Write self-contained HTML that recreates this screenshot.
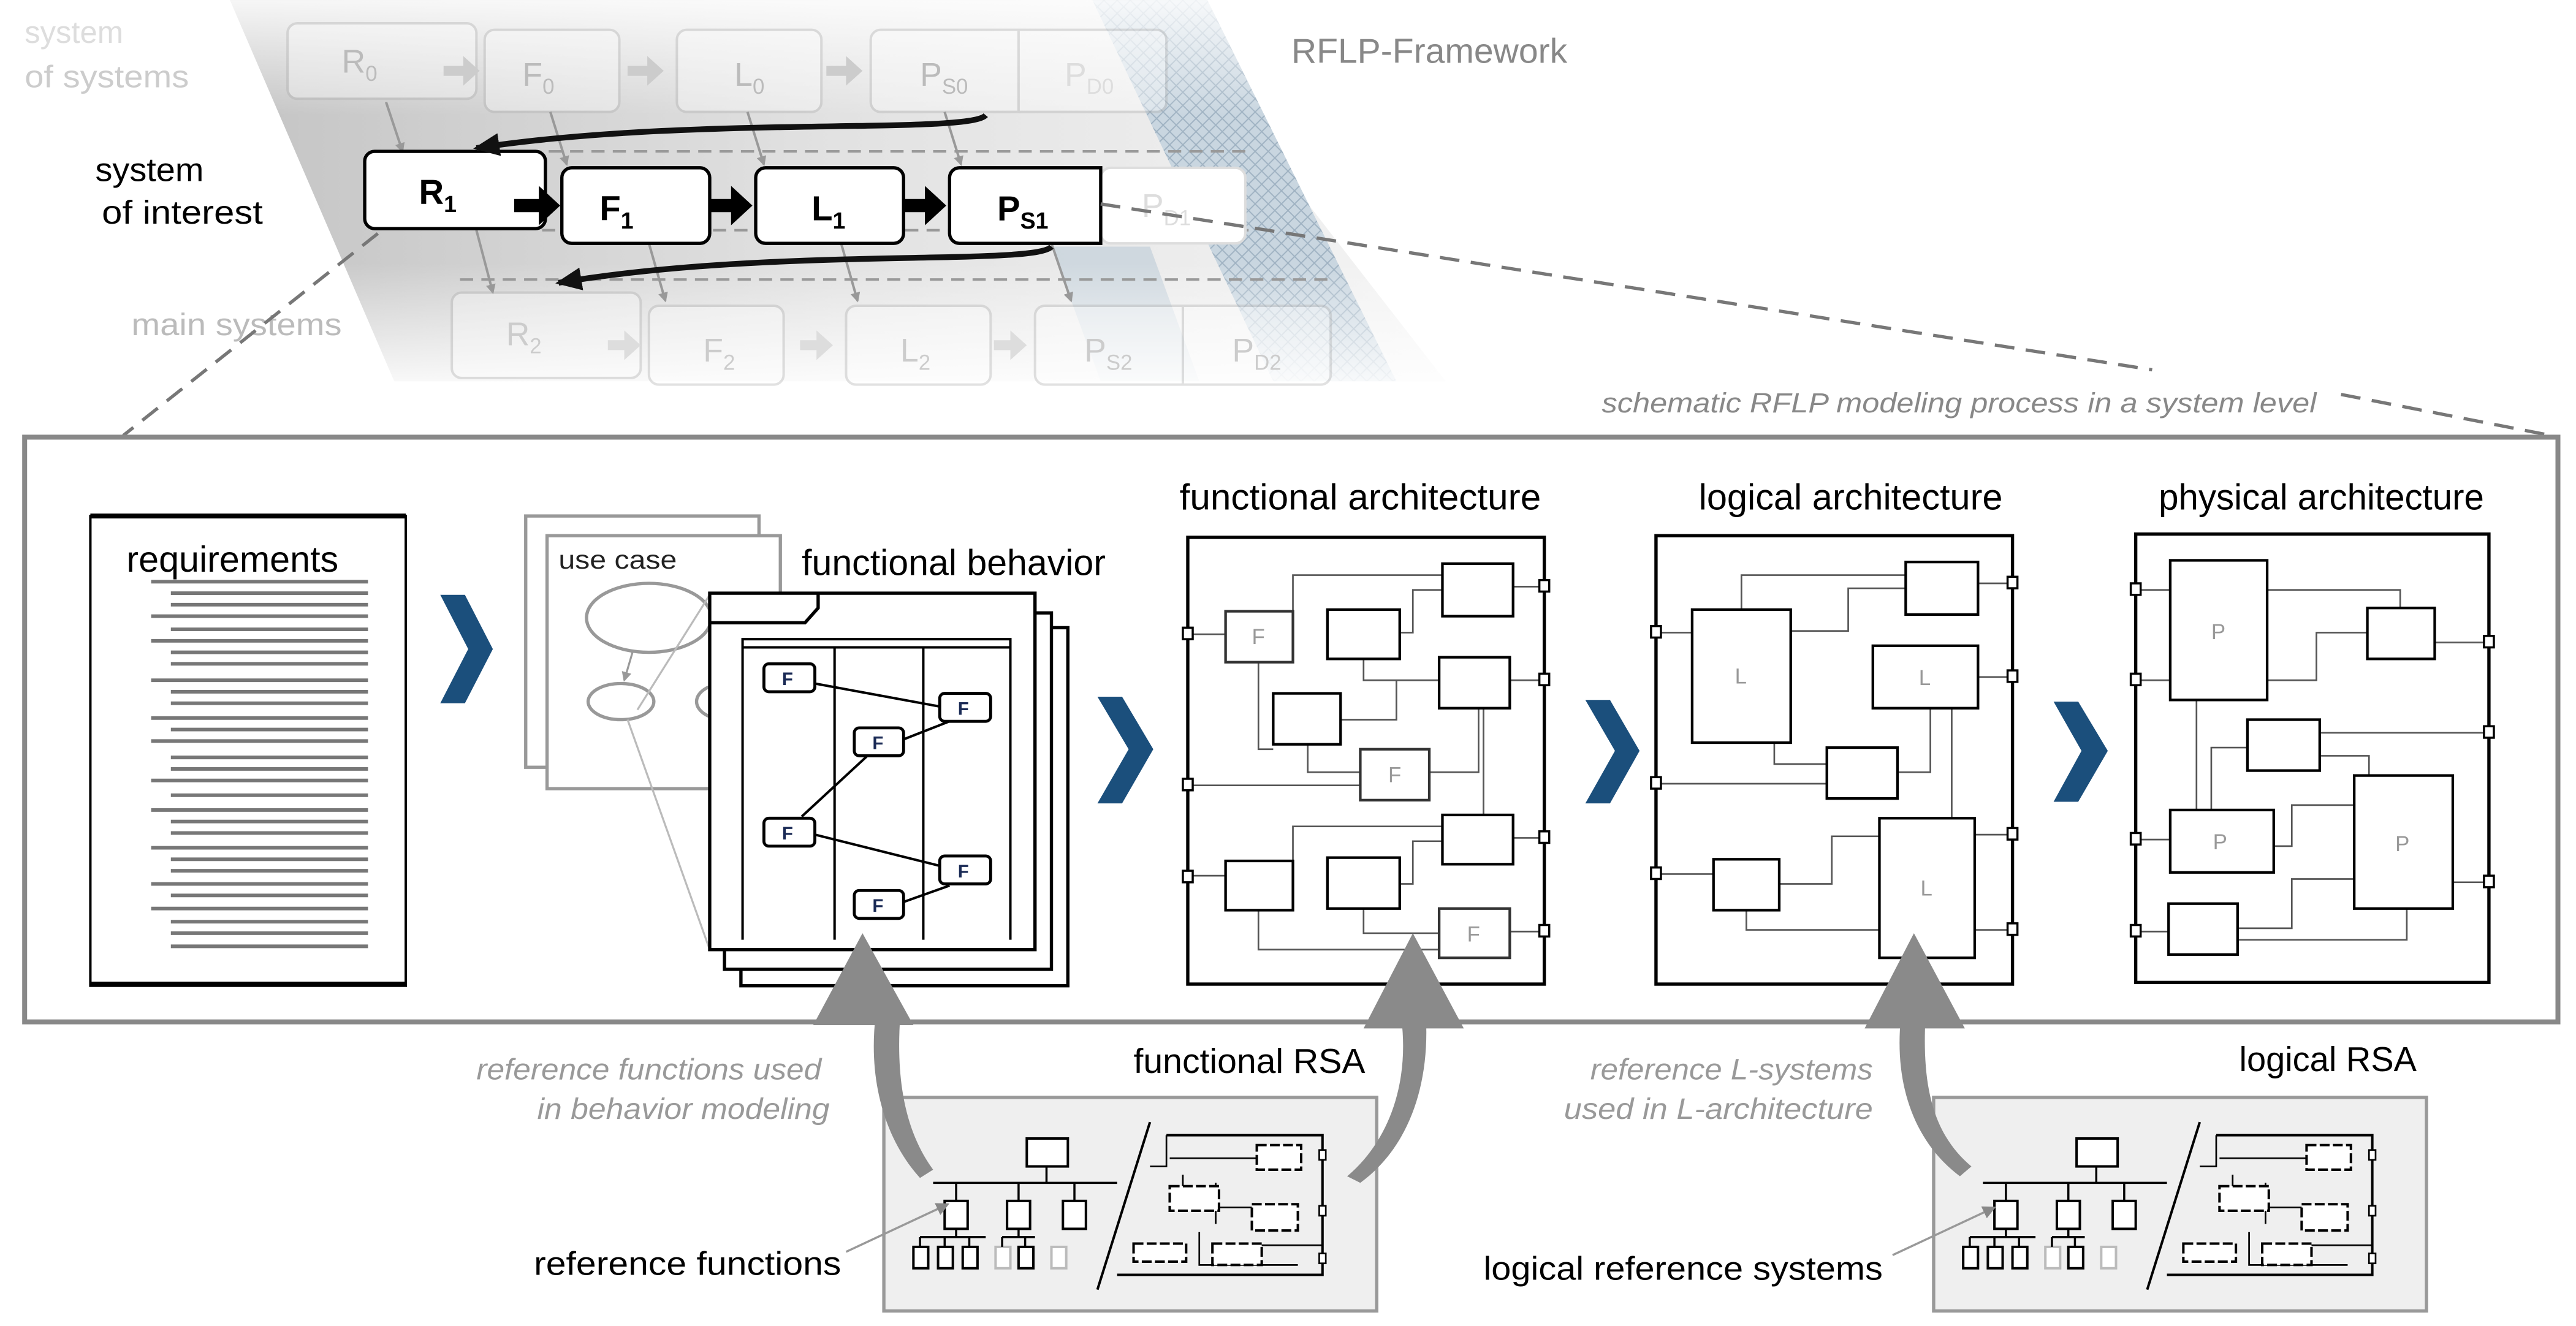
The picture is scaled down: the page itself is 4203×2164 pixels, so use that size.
<!DOCTYPE html>
<html><head><meta charset="utf-8"><style>
html,body{margin:0;padding:0;background:#fff;}
svg{display:block;}
text{font-family:"Liberation Sans",sans-serif;}
</style></head><body>
<svg width="4203" height="2164" viewBox="0 0 1568 807" xmlns="http://www.w3.org/2000/svg">
<defs>
<linearGradient id="band" x1="0" y1="0" x2="1" y2="0">
<stop offset="0" stop-color="#c4c4c4"/><stop offset="0.5" stop-color="#e2e2e2"/><stop offset="1" stop-color="#f4f4f4"/>
</linearGradient>
<linearGradient id="fadeTop" x1="0" y1="0" x2="0" y2="1">
<stop offset="0" stop-color="#fff" stop-opacity="0.85"/><stop offset="1" stop-color="#fff" stop-opacity="0"/>
</linearGradient>
<linearGradient id="fadeBot" x1="0" y1="0" x2="0" y2="1">
<stop offset="0" stop-color="#fff" stop-opacity="0"/><stop offset="1" stop-color="#fff" stop-opacity="0.9"/>
</linearGradient>
<pattern id="hatch" width="8" height="8" patternUnits="userSpaceOnUse">
<rect width="8" height="8" fill="#c9d6e0"/>
<path d="M0 0L8 8M8 0L0 8" stroke="#9fb2c2" stroke-width="0.7"/>
</pattern>
<marker id="ah" markerWidth="8" markerHeight="8" refX="7" refY="4" orient="auto" markerUnits="userSpaceOnUse"><path d="M0 0L8 4L0 8z" fill="#888"/></marker>
<marker id="ahb" markerWidth="16" markerHeight="14" refX="14" refY="7" orient="auto" markerUnits="userSpaceOnUse"><path d="M0 0L16 7L0 14z" fill="#111"/></marker>
<marker id="ahs" markerWidth="6" markerHeight="6" refX="5" refY="3" orient="auto" markerUnits="userSpaceOnUse"><path d="M0 0L6 3L0 6z" fill="#999"/></marker>
</defs>

<!-- top framework background -->
<polygon points="140,0 700,0 880,232 240,232" fill="url(#band)"/>
<polygon points="665,0 735,0 850,232 775,232" fill="url(#hatch)"/>
<polygon points="640,150 700,150 730,232 670,232" fill="#c3d0da" opacity="0.7"/>
<rect x="0" y="0" width="1000" height="70" fill="url(#fadeTop)"/>
<rect x="0" y="160" width="1000" height="75" fill="url(#fadeBot)"/>

<!-- row 0 faded -->
<g opacity="0.35" fill="#fff" stroke="#aaa" stroke-width="1.5">
<rect x="175" y="14" width="115" height="46" rx="6"/>
<rect x="295" y="18" width="82" height="50" rx="6"/>
<rect x="412" y="18" width="88" height="50" rx="6"/>
<rect x="530" y="18" width="180" height="50" rx="6"/>
<line x1="620" y1="18" x2="620" y2="68"/>
</g>
<g fill="#bbb" font-size="20">
<text x="208" y="44">R<tspan font-size="13" dy="5">0</tspan></text>
<text x="318" y="52">F<tspan font-size="13" dy="5">0</tspan></text>
<text x="447" y="52">L<tspan font-size="13" dy="5">0</tspan></text>
<text x="560" y="52">P<tspan font-size="13" dy="5">S0</tspan></text>
<text x="648" y="52" fill="#ddd">P<tspan font-size="13" dy="5">D0</tspan></text>
</g>
<g fill="#ccc"><path d="M270 40h12v-6l10 9-10 9v-6h-12z"/><path d="M382 40h12v-6l10 9-10 9v-6h-12z"/><path d="M503 40h12v-6l10 9-10 9v-6h-12z"/></g>
<text x="15" y="26" font-size="19" fill="#ddd" textLength="60" lengthAdjust="spacingAndGlyphs">system</text>
<text x="15" y="53" font-size="19" fill="#ccc" textLength="100" lengthAdjust="spacingAndGlyphs">of systems</text>
<text x="786" y="38" font-size="21" fill="#888" textLength="168" lengthAdjust="spacingAndGlyphs">RFLP-Framework</text>

<!-- gray down arrows -->
<g stroke="#999" stroke-width="1.5" marker-end="url(#ahs)" fill="none">
<line x1="235" y1="62" x2="245" y2="92"/>
<line x1="335" y1="68" x2="345" y2="100"/>
<line x1="455" y1="68" x2="465" y2="100"/>
<line x1="575" y1="68" x2="585" y2="100"/>
<line x1="290" y1="140" x2="300" y2="178"/>
<line x1="395" y1="148" x2="405" y2="183"/>
<line x1="512" y1="148" x2="522" y2="183"/>
<line x1="640" y1="148" x2="652" y2="183"/>
</g>

<!-- row 1 dashed frame -->
<g stroke="#999" stroke-width="1.5" stroke-dasharray="8,5" fill="none">
<line x1="230" y1="92" x2="760" y2="92"/>
<line x1="330" y1="140" x2="760" y2="140"/>
<line x1="280" y1="170" x2="810" y2="170"/>
</g>
<!-- row 1 -->
<rect x="670" y="102" width="88" height="46" rx="6" fill="#fff" stroke="#ddd" stroke-width="1.5"/>
<text x="695" y="132" font-size="20" fill="#ddd">P<tspan font-size="13" dy="5">D1</tspan></text>
<g fill="#fff" stroke="#000" stroke-width="2">
<rect x="222" y="92" width="110" height="47" rx="6"/>
<rect x="342" y="102" width="90" height="46" rx="6"/>
<rect x="460" y="102" width="90" height="46" rx="6"/>
<path d="M670 102H584a6 6 0 0 0-6 6v34a6 6 0 0 0 6 6H670z"/>
</g>
<g font-size="21" font-weight="bold" fill="#000">
<text x="255" y="124">R<tspan font-size="14" dy="5">1</tspan></text>
<text x="365" y="134">F<tspan font-size="14" dy="5">1</tspan></text>
<text x="494" y="134">L<tspan font-size="14" dy="5">1</tspan></text>
<text x="607" y="134">P<tspan font-size="14" dy="5">S1</tspan></text>
</g>
<g fill="#000">
<path d="M313 121h15v-8l13 12-13 12v-8h-15z"/>
<path d="M432 121h13v-8l13 12-13 12v-8h-13z"/>
<path d="M550 121h13v-8l13 12-13 12v-8h-13z"/>
</g>
<text x="58" y="110" font-size="20" fill="#000" textLength="66" lengthAdjust="spacingAndGlyphs">system</text>
<text x="62" y="136" font-size="20" fill="#000" textLength="98" lengthAdjust="spacingAndGlyphs">of interest</text>

<!-- curved black arrows -->
<path d="M600 70 C590 82 420 70 290 90" stroke="#111" stroke-width="3.5" fill="none" marker-end="url(#ahb)"/>
<path d="M640 150 C630 162 470 150 340 172" stroke="#111" stroke-width="3.5" fill="none" marker-end="url(#ahb)"/>

<!-- row 2 faded -->
<g opacity="0.35" fill="#fff" stroke="#aaa" stroke-width="1.5">
<rect x="275" y="178" width="115" height="52" rx="6"/>
<rect x="395" y="186" width="82" height="48" rx="6"/>
<rect x="515" y="186" width="88" height="48" rx="6"/>
<rect x="630" y="186" width="180" height="48" rx="6"/>
<line x1="720" y1="186" x2="720" y2="234"/>
</g>
<g fill="#ccc" font-size="20">
<text x="308" y="210">R<tspan font-size="13" dy="5">2</tspan></text>
<text x="428" y="220">F<tspan font-size="13" dy="5">2</tspan></text>
<text x="548" y="220">L<tspan font-size="13" dy="5">2</tspan></text>
<text x="660" y="220">P<tspan font-size="13" dy="5">S2</tspan></text>
<text x="750" y="220">P<tspan font-size="13" dy="5">D2</tspan></text>
</g>
<g fill="#ddd"><path d="M370 207h10v-6l10 9-10 9v-6h-10z"/><path d="M487 207h10v-6l10 9-10 9v-6h-10z"/><path d="M605 207h10v-6l10 9-10 9v-6h-10z"/></g>
<text x="80" y="204" font-size="19" fill="#bbb" textLength="128" lengthAdjust="spacingAndGlyphs">main systems</text>

<!-- zoom dashed lines -->
<g stroke="#777" stroke-width="2" stroke-dasharray="12,7" fill="none">
<line x1="230" y1="142" x2="75" y2="265"/>
<line x1="670" y1="124" x2="1310" y2="225"/>
<line x1="1425" y1="240" x2="1558" y2="266"/>
</g>
<text x="975" y="251" font-size="17" font-style="italic" fill="#888" textLength="435" lengthAdjust="spacingAndGlyphs">schematic RFLP modeling process in a system level</text>

<!-- main box -->
<rect x="15" y="266" width="1542" height="356" fill="#fff" stroke="#888" stroke-width="3"/>

<!-- requirements -->
<rect x="55" y="314" width="192" height="286" fill="#fff" stroke="#000" stroke-width="1.5"/>
<line x1="55" y1="314" x2="247" y2="314" stroke="#000" stroke-width="3"/>
<line x1="55" y1="599" x2="247" y2="599" stroke="#000" stroke-width="3"/>
<text x="77" y="348" font-size="22" fill="#000" textLength="129" lengthAdjust="spacingAndGlyphs">requirements</text>
<g stroke="#777" stroke-width="2.2">
<line x1="92" y1="354" x2="224" y2="354"/><line x1="104" y1="361" x2="224" y2="361"/><line x1="104" y1="368" x2="224" y2="368"/>
<line x1="92" y1="375" x2="224" y2="375"/><line x1="104" y1="383" x2="224" y2="383"/><line x1="92" y1="390" x2="224" y2="390"/>
<line x1="104" y1="397" x2="224" y2="397"/><line x1="104" y1="404" x2="224" y2="404"/>
<line x1="92" y1="414" x2="224" y2="414"/><line x1="104" y1="421" x2="224" y2="421"/><line x1="104" y1="428" x2="224" y2="428"/>
<line x1="92" y1="437" x2="224" y2="437"/><line x1="104" y1="444" x2="224" y2="444"/><line x1="92" y1="451" x2="224" y2="451"/>
<line x1="104" y1="461" x2="224" y2="461"/><line x1="104" y1="468" x2="224" y2="468"/><line x1="92" y1="475" x2="224" y2="475"/>
<line x1="104" y1="484" x2="224" y2="484"/><line x1="92" y1="493" x2="224" y2="493"/><line x1="104" y1="500" x2="224" y2="500"/>
<line x1="104" y1="507" x2="224" y2="507"/><line x1="92" y1="516" x2="224" y2="516"/><line x1="104" y1="523" x2="224" y2="523"/>
<line x1="104" y1="530" x2="224" y2="530"/><line x1="92" y1="538" x2="224" y2="538"/><line x1="104" y1="545" x2="224" y2="545"/>
<line x1="92" y1="553" x2="224" y2="553"/><line x1="104" y1="561" x2="224" y2="561"/><line x1="104" y1="568" x2="224" y2="568"/>
<line x1="104" y1="576" x2="224" y2="576"/>
</g>

<!-- chevrons -->
<g fill="#1b4f7c">
<polygon points="268,362 283,362 300,395 283,428 268,428 285,395"/>
<polygon points="668,424 683,424 702,456 683,489 668,489 687,456"/>
<polygon points="965,426 980,426 998,457 980,489 965,489 983,457"/>
<polygon points="1250,427 1265,427 1283,457 1265,488 1250,488 1267,457"/>
</g>

<!-- use case -->
<rect x="320" y="314" width="142" height="153" fill="#fff" stroke="#999" stroke-width="2"/>
<rect x="333" y="326" width="142" height="154" fill="#fff" stroke="#999" stroke-width="2"/>
<text x="340" y="346" font-size="16" fill="#222" textLength="72" lengthAdjust="spacingAndGlyphs">use case</text>
<ellipse cx="395" cy="376" rx="38" ry="21" fill="none" stroke="#999" stroke-width="2"/>
<ellipse cx="378" cy="427" rx="20" ry="11" fill="none" stroke="#999" stroke-width="2"/>
<ellipse cx="442" cy="427" rx="18" ry="11" fill="none" stroke="#999" stroke-width="2"/>
<line x1="385" y1="397" x2="380" y2="414" stroke="#999" stroke-width="1.2" marker-end="url(#ahs)"/>
<line x1="432" y1="362" x2="388" y2="432" stroke="#bbb" stroke-width="1.2"/>
<line x1="382" y1="438" x2="432" y2="578" stroke="#bbb" stroke-width="1.2"/>

<!-- functional behavior -->
<rect x="451" y="382" width="199" height="218" fill="#fff" stroke="#000" stroke-width="2"/>
<rect x="441" y="373" width="199" height="217" fill="#fff" stroke="#000" stroke-width="2"/>
<rect x="432" y="361" width="198" height="217" fill="#fff" stroke="#000" stroke-width="2"/>
<path d="M432 379H490L498 370V361" fill="none" stroke="#000" stroke-width="2"/>
<text x="488" y="350" font-size="22" fill="#000" textLength="185" lengthAdjust="spacingAndGlyphs">functional behavior</text>
<g stroke="#000" stroke-width="1.5" fill="none">
<path d="M452 572V389H615V572"/>
<line x1="452" y1="394" x2="615" y2="394"/>
<line x1="508" y1="394" x2="508" y2="572"/>
<line x1="562" y1="394" x2="562" y2="572"/>
<line x1="496" y1="416" x2="572" y2="430"/>
<line x1="578" y1="439" x2="550" y2="450"/>
<line x1="528" y1="460" x2="488" y2="497"/>
<line x1="496" y1="508" x2="572" y2="527"/>
<line x1="578" y1="539" x2="550" y2="549"/>
</g>
<g fill="#fff" stroke="#000" stroke-width="1.8">
<rect x="465" y="404" width="31" height="17" rx="3"/>
<rect x="572" y="422" width="31" height="17" rx="3"/>
<rect x="520" y="443" width="30" height="17" rx="3"/>
<rect x="465" y="498" width="31" height="17" rx="3"/>
<rect x="572" y="521" width="31" height="17" rx="3"/>
<rect x="520" y="542" width="30" height="17" rx="3"/>
</g>
<g font-size="11" fill="#1a2a55" font-weight="bold">
<text x="476" y="417">F</text><text x="583" y="435">F</text><text x="531" y="456">F</text>
<text x="476" y="511">F</text><text x="583" y="534">F</text><text x="531" y="555">F</text>
</g>

<!-- functional architecture -->
<text x="718" y="310" font-size="22" fill="#000" textLength="220" lengthAdjust="spacingAndGlyphs">functional architecture</text>
<rect x="723" y="327" width="217" height="272" fill="#fff" stroke="#000" stroke-width="2"/>
<g stroke="#555" stroke-width="1" fill="none">
<path d="M787 385V350H878"/><path d="M852 385H860V359H878"/>
<path d="M830 401V414H876"/><path d="M766 403V456H775"/><path d="M796 453V470H828"/>
<path d="M816 438H850V414"/><path d="M870 470H900V431"/><path d="M903 431V496"/>
<path d="M723 478H828"/><path d="M787 534V503H878"/><path d="M852 538H860V512H878"/>
<path d="M766 554V578H876"/><path d="M830 553V568H876"/>
<path d="M921 357H940"/><path d="M919 414H940"/><path d="M921 510H940"/><path d="M919 567H940"/>
<path d="M723 386H746"/><path d="M723 533H746"/>
</g>
<g fill="#fff" stroke="#000" stroke-width="1.6">
<rect x="746" y="372" width="41" height="31" stroke="#333"/>
<rect x="808" y="371" width="44" height="30"/>
<rect x="878" y="343" width="43" height="32"/>
<rect x="876" y="400" width="43" height="31"/>
<rect x="775" y="422" width="41" height="31"/>
<rect x="828" y="456" width="42" height="31" stroke="#333"/>
<rect x="878" y="496" width="43" height="30"/>
<rect x="746" y="524" width="41" height="30"/>
<rect x="808" y="522" width="44" height="31"/>
<rect x="876" y="553" width="43" height="30" stroke="#333"/>
</g>
<g font-size="13" fill="#999"><text x="762" y="392">F</text><text x="845" y="476">F</text><text x="893" y="573">F</text></g>
<g fill="#fff" stroke="#000" stroke-width="1.3">
<rect x="720" y="382" width="6" height="7"/><rect x="720" y="474" width="6" height="7"/><rect x="720" y="530" width="6" height="7"/>
<rect x="937" y="353" width="6" height="7"/><rect x="937" y="410" width="6" height="7"/><rect x="937" y="506" width="6" height="7"/><rect x="937" y="563" width="6" height="7"/>
</g>

<!-- logical architecture -->
<text x="1034" y="310" font-size="22" fill="#000" textLength="185" lengthAdjust="spacingAndGlyphs">logical architecture</text>
<rect x="1008" y="326" width="217" height="273" fill="#fff" stroke="#000" stroke-width="2"/>
<g stroke="#555" stroke-width="1" fill="none">
<path d="M1060 371V350H1160"/><path d="M1090 384H1125V358H1160"/>
<path d="M1008 385H1030"/><path d="M1080 452V465H1112"/><path d="M1155 470H1175V431"/>
<path d="M1008 477H1112"/><path d="M1188 431V498"/>
<path d="M1083 538H1115V509H1144"/><path d="M1063 554V566H1144"/>
<path d="M1204 355H1225"/><path d="M1204 412H1225"/><path d="M1202 508H1225"/><path d="M1202 566H1225"/>
<path d="M1008 532H1043"/>
</g>
<g fill="#fff" stroke="#000" stroke-width="1.6">
<rect x="1160" y="342" width="44" height="32"/>
<rect x="1030" y="371" width="60" height="81"/>
<rect x="1140" y="393" width="64" height="38"/>
<rect x="1112" y="455" width="43" height="31"/>
<rect x="1043" y="523" width="40" height="31"/>
<rect x="1144" y="498" width="58" height="85"/>
</g>
<g font-size="13" fill="#999"><text x="1056" y="416">L</text><text x="1168" y="417">L</text><text x="1169" y="545">L</text></g>
<g fill="#fff" stroke="#000" stroke-width="1.3">
<rect x="1005" y="381" width="6" height="7"/><rect x="1005" y="473" width="6" height="7"/><rect x="1005" y="528" width="6" height="7"/>
<rect x="1222" y="351" width="6" height="7"/><rect x="1222" y="408" width="6" height="7"/><rect x="1222" y="504" width="6" height="7"/><rect x="1222" y="562" width="6" height="7"/>
</g>

<!-- physical architecture -->
<text x="1314" y="310" font-size="22" fill="#000" textLength="198" lengthAdjust="spacingAndGlyphs">physical architecture</text>
<rect x="1300" y="325" width="215" height="273" fill="#fff" stroke="#000" stroke-width="2"/>
<g stroke="#555" stroke-width="1" fill="none">
<path d="M1380 359H1461V370"/><path d="M1380 414H1410V385H1441"/><path d="M1482 391H1515"/>
<path d="M1337 426V493"/><path d="M1346 493V455H1368"/><path d="M1412 446H1515"/>
<path d="M1412 460H1442V472"/><path d="M1384 515H1395V490H1433"/><path d="M1493 537H1515"/>
<path d="M1362 565H1395V535H1433"/><path d="M1362 572H1465V553"/><path d="M1300 567H1320"/>
<path d="M1300 359H1321"/><path d="M1300 414H1321"/><path d="M1300 511H1321"/>
</g>
<g fill="#fff" stroke="#000" stroke-width="1.6">
<rect x="1321" y="341" width="59" height="85"/>
<rect x="1441" y="370" width="41" height="31"/>
<rect x="1368" y="438" width="44" height="31"/>
<rect x="1321" y="493" width="63" height="38"/>
<rect x="1433" y="472" width="60" height="81"/>
<rect x="1320" y="550" width="42" height="31"/>
</g>
<g font-size="13" fill="#999"><text x="1346" y="389">P</text><text x="1347" y="517">P</text><text x="1458" y="518">P</text></g>
<g fill="#fff" stroke="#000" stroke-width="1.3">
<rect x="1297" y="355" width="6" height="7"/><rect x="1297" y="410" width="6" height="7"/><rect x="1297" y="507" width="6" height="7"/><rect x="1297" y="563" width="6" height="7"/>
<rect x="1512" y="387" width="6" height="7"/><rect x="1512" y="442" width="6" height="7"/><rect x="1512" y="533" width="6" height="7"/>
</g>

<!-- RSA boxes -->
<rect x="538" y="668" width="300" height="130" fill="#efefef" stroke="#999" stroke-width="2"/>
<rect x="1177" y="668" width="300" height="130" fill="#efefef" stroke="#999" stroke-width="2"/>

<g id="rsa">
<g fill="#fff" stroke="#000" stroke-width="1.5">
<rect x="625" y="693" width="25" height="17"/>
<rect x="575" y="731" width="14" height="17"/><rect x="613" y="731" width="14" height="17"/><rect x="647" y="731" width="14" height="17"/>
<rect x="556" y="759" width="9" height="13"/><rect x="571" y="759" width="9" height="13"/><rect x="586" y="759" width="9" height="13"/>
<rect x="606" y="759" width="9" height="13" stroke="#bbb"/><rect x="620" y="759" width="9" height="13"/><rect x="640" y="759" width="9" height="13" stroke="#bbb"/>
</g>
<g stroke="#000" stroke-width="1.3" fill="none">
<path d="M637 710V720M568 720H680M582 720V731M620 720V731M654 720V731"/>
<path d="M582 748V753M560 753H600M560 753V759M575 753V759M590 753V759"/>
<path d="M620 748V753M610 753H630M610 753V759M624 753V759"/>
</g>
<line x1="700" y1="683" x2="668" y2="785" stroke="#000" stroke-width="1.5"/>
<g stroke="#000" stroke-width="1.5" fill="none">
<path d="M710 691H805V776H680"/>
</g>
<g stroke="#000" stroke-width="1" fill="none">
<path d="M710 691V710H700"/><path d="M712 705H765"/><path d="M720 715V735H790"/><path d="M740 720V745"/>
<path d="M730 750V770H790"/><path d="M760 758H805"/>
</g>
<g fill="#fff" stroke="#000" stroke-width="1.5" stroke-dasharray="6,2">
<rect x="765" y="697" width="27" height="15"/><rect x="712" y="722" width="30" height="15"/>
<rect x="762" y="733" width="28" height="16"/><rect x="690" y="757" width="32" height="11"/>
<rect x="738" y="757" width="30" height="13"/>
</g>
<g fill="#fff" stroke="#000" stroke-width="1"><rect x="803" y="700" width="4" height="6"/><rect x="803" y="734" width="4" height="6"/><rect x="803" y="763" width="4" height="6"/></g>
</g>
<use href="#rsa" transform="translate(639,0)"/>

<text x="690" y="653" font-size="21" fill="#000" textLength="141" lengthAdjust="spacingAndGlyphs">functional RSA</text>
<text x="1363" y="652" font-size="21" fill="#000" textLength="108" lengthAdjust="spacingAndGlyphs">logical RSA</text>
<g font-size="18" font-style="italic" fill="#999">
<text x="290" y="657" textLength="210" lengthAdjust="spacingAndGlyphs">reference functions used</text>
<text x="327" y="681" textLength="178" lengthAdjust="spacingAndGlyphs">in behavior modeling</text>
<text x="968" y="657" textLength="172" lengthAdjust="spacingAndGlyphs">reference L-systems</text>
<text x="952" y="681" textLength="188" lengthAdjust="spacingAndGlyphs">used in L-architecture</text>
</g>
<text x="325" y="776" font-size="20" fill="#000" textLength="187" lengthAdjust="spacingAndGlyphs">reference functions</text>
<text x="903" y="779" font-size="20" fill="#000" textLength="243" lengthAdjust="spacingAndGlyphs">logical reference systems</text>
<line x1="515" y1="762" x2="577" y2="733" stroke="#999" stroke-width="1.3" marker-end="url(#ah)"/>
<line x1="1152" y1="764" x2="1214" y2="735" stroke="#999" stroke-width="1.3" marker-end="url(#ah)"/>

<!-- big gray arrows -->
<g fill="#8a8a8a">
<path d="M533 618 C528 660 540 695 560 717 L568 712 C552 690 545 660 548 618 Z"/>
<polygon points="525,568 556,624 495,624"/>
<path d="M853 620 C858 660 845 695 820 716 L828 720 C858 698 870 660 868 620 Z"/>
<polygon points="860,568 891,626 830,626"/>
<path d="M1157 620 C1153 660 1165 695 1193 716 L1200 710 C1176 690 1170 660 1172 620 Z"/>
<polygon points="1165,568 1196,626 1135,626"/>
</g>
</svg>
</body></html>
